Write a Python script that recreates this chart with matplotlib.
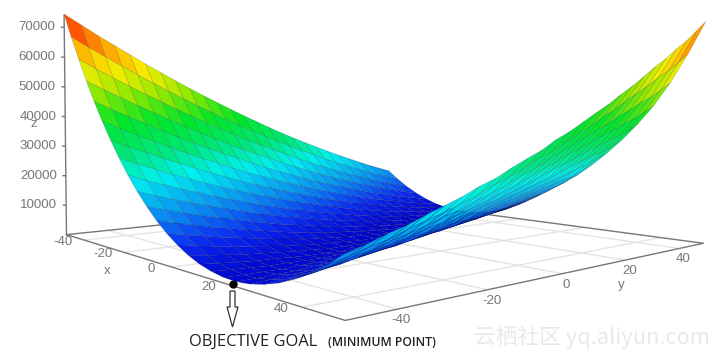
import numpy as np
import matplotlib
matplotlib.use('Agg')
import matplotlib.pyplot as plt
from matplotlib.colors import LinearSegmentedColormap, Normalize
from matplotlib.patches import FancyArrow
from matplotlib.transforms import IdentityTransform
from mpl_toolkits.mplot3d import proj3d

W, H = 721, 359

x_vals = list(range(-50, 51, 4))
y_vals = list(range(-50, 51, 4))
x_ticks = [-40, -20, 0, 20, 40]
y_ticks = [-40, -20, 0, 20, 40]
z_ticks = [10000, 20000, 30000, 40000, 50000, 60000, 70000]

# surface height, in hundreds, one row per x
z_hundreds = [
    [744,711,678,647,616,585,556,527,499,472,446,420,395,371,347,324,302,281,261,241,222,204,186,169,153,138],
    [664,632,602,572,543,515,487,460,434,409,384,360,337,315,293,272,252,233,214,196,179,163,147,132,118,105],
    [588,558,530,502,475,449,423,398,373,350,327,305,284,264,244,224,206,189,172,156,141,127,112,99,87,76],
    [517,489,463,437,412,387,363,340,317,296,275,255,236,217,199,181,165,150,135,121,107,95,82,71,61,52],
    [451,425,401,376,353,330,308,287,266,247,228,209,192,175,159,143,129,116,102,90,78,68,57,48,40,32],
    [390,365,343,320,299,278,258,239,219,202,185,168,153,138,124,110,97,86,74,64,54,46,37,29,23,17],
    [333,310,290,269,250,230,212,195,177,162,147,132,119,105,93,81,70,61,51,43,35,28,21,15,11,7],
    [281,260,241,222,205,187,171,156,140,127,113,100,89,77,67,57,48,40,32,26,20,15,10,6,4,2],
    [233,214,197,180,165,149,135,121,107,96,84,73,64,54,46,37,30,24,18,14,10,7,4,1,1,1],
    [190,173,158,143,130,116,103,91,79,70,60,51,44,35,29,22,17,13,9,7,5,3,2,1,3,5],
    [152,137,124,110,99,87,76,66,56,49,41,33,28,21,17,12,9,7,4,4,4,4,5,6,10,14],
    [118,105,94,82,73,63,54,46,37,32,26,20,17,12,10,7,5,5,4,6,8,10,13,15,21,27],
    [89,78,69,59,52,44,36,30,23,20,16,12,11,7,7,6,6,8,9,13,17,20,25,29,37,45],
    [65,56,48,40,35,29,23,19,14,13,10,8,9,7,9,10,12,16,18,24,30,35,42,48,58,68],
    [45,38,32,26,23,19,15,13,9,10,9,9,12,12,16,18,22,28,32,40,48,55,64,71,83,95],
    [30,25,21,17,16,13,11,11,9,12,13,15,20,21,27,31,37,45,51,61,70,79,90,99,113,127],
    [20,17,15,12,13,12,12,14,14,19,21,25,32,35,43,49,57,66,73,84,94,104,116,125,140,154],
    [14,13,13,12,15,16,18,22,23,30,34,40,49,54,64,72,81,91,100,112,124,134,147,156,172,187],
    [13,14,16,17,22,24,28,34,37,46,52,60,71,77,89,99,110,122,132,146,158,170,183,193,210,226],
    [17,20,24,26,33,37,43,51,56,67,75,84,97,105,119,131,144,157,169,184,197,210,224,236,253,270],
    [26,30,36,40,49,55,63,73,79,92,102,113,128,138,154,168,182,197,210,226,242,255,271,283,301,319],
    [39,45,53,59,70,78,87,99,107,122,134,147,164,176,193,209,225,242,257,274,291,305,322,336,354,374],
    [57,65,75,82,95,105,116,130,140,157,171,185,204,218,237,255,273,292,308,327,346,361,380,396,416,437],
    [80,89,101,110,125,137,150,166,178,196,212,228,249,265,286,306,325,346,365,386,408,426,448,465,489,513],
    [107,118,132,143,160,174,188,206,220,240,258,276,299,317,339,361,382,406,428,453,477,499,525,547,574,603],
    [139,152,168,181,199,215,231,251,267,289,309,328,353,373,397,421,444,471,496,524,553,579,610,637,670,704],
]
goal = (21, -50, 400)

TICK = '#777777'
AXIS = '#777777'
GRID = '#e4e4e4'

plt.rcParams['font.family'] = ['Liberation Sans', 'DejaVu Sans']

X, Y = np.meshgrid(x_vals, y_vals, indexing='ij')
Z = np.array(z_hundreds) * 100.0

fig = plt.figure(figsize=(W / 100, H / 100), dpi=100)
ax = fig.add_subplot(projection='3d', computed_zorder=False)
ax.set_xlim(-50, 50, view_margin=0)
ax.set_ylim(-50, 50, view_margin=0)
ax.set_zlim(0, 74000, view_margin=0)
ax.view_init(1.7257, -40.9055)
ax.set_proj_type('persp', focal_length=0.2409)
ax.set_box_aspect((1, 0.9752, 0.493))
ax.set_position([36.1 / W, -106.1 / H, 660 / W, 660 / H])
ax.set_axis_off()

# floor grid
for t in x_ticks:
    ax.plot([t, t], [-50, 50], [0, 0], color=GRID, lw=1, zorder=1, clip_on=False)
for t in y_ticks:
    ax.plot([-50, 50], [t, t], [0, 0], color=GRID, lw=1, zorder=1, clip_on=False)
ax.plot([-50, 50, 50, -50, -50], [-50, -50, 50, 50, -50], [0, 0, 0, 0, 0], color=AXIS, lw=1, zorder=1, clip_on=False)
ax.plot([-50, -50], [-50, -50], [0, 74000], color=AXIS, lw=1, zorder=1, clip_on=False)

# surface, cell colour from the mean height of its corners
cmap = LinearSegmentedColormap.from_list('bowl', [
    (0.00, '#0000c8'), (0.08, '#0a28f0'), (0.18, '#0a8cf0'), (0.31, '#00f0f0'),
    (0.42, '#00e678'), (0.55, '#00e628'), (0.68, '#90e800'), (0.80, '#f8ee00'),
    (0.90, '#ffa800'), (1.00, '#ff4400'),
])
cells = (Z[:-1, :-1] + Z[1:, :-1] + Z[:-1, 1:] + Z[1:, 1:]) / 4
colors = cmap(Normalize(0, 70000)(cells))
surf = ax.plot_surface(X, Y, Z, facecolors=colors, rstride=1, cstride=1, shade=False,
                       edgecolor=(0, 0, 0, 0.22), linewidth=0.4, zorder=2, antialiased=True)
surf.set_clip_on(False)

ax.plot([goal[0]], [goal[1]], [goal[2]], 'o', color='black', ms=5, zorder=3, clip_on=False)

M = ax.get_proj()


def label(text, xyz, dx, dy, ha='center'):
    px, py, _ = proj3d.proj_transform(xyz[0], xyz[1], xyz[2], M)
    ax.annotate(text, (px, py), xytext=(dx, dy), textcoords='offset pixels', ha=ha, va='center',
                color=TICK, fontsize=9.6, annotation_clip=False)


for t in x_ticks:
    label(str(t), (t, -50, 0), -21, -2)
for t in y_ticks:
    label(str(t), (50, t, 0), 4, -11)
for t in z_ticks:
    label(str(t), (-50, -50, t), -9, 0, ha='right')
    px, py, _ = proj3d.proj_transform(-50, -50, t, M)
    ax.annotate('', (px, py), xytext=(-3, 0), textcoords='offset pixels', annotation_clip=False,
                arrowprops=dict(arrowstyle='-', color=AXIS, lw=1, shrinkA=0, shrinkB=0))

fig.text(34 / W, 1 - 124 / H, 'z', color=TICK, fontsize=9.6, ha='center', va='center')
fig.text(107 / W, 1 - 271 / H, 'x', color=TICK, fontsize=9.6, ha='center', va='center')
fig.text(621 / W, 1 - 285 / H, 'y', color=TICK, fontsize=9.6, ha='center', va='center')

fig.add_artist(FancyArrow(232.5, H - 291, 0, -36, width=5, head_width=11, head_length=20,
                          length_includes_head=True, facecolor='white', edgecolor='#333333',
                          linewidth=0.9, transform=IdentityTransform()))
fig.text(253.5 / W, 1 - 342 / H, 'OBJECTIVE GOAL', family='Open Sans', color='#222222', fontsize=11.9,
         ha='center', va='center')
fig.text(382 / W, 1 - 342 / H, '(MINIMUM POINT)', family='Open Sans', color='#222222', fontsize=8.8,
         ha='center', va='center', weight='semibold')
fig.text(592 / W, 1 - 337 / H, '云栖社区 yq.aliyun.com', family=['Noto Sans CJK SC', 'DejaVu Sans'],
         color='#e9e9e9', fontsize=15.7, ha='center', va='center')

fig.savefig('out.png', dpi=100)
